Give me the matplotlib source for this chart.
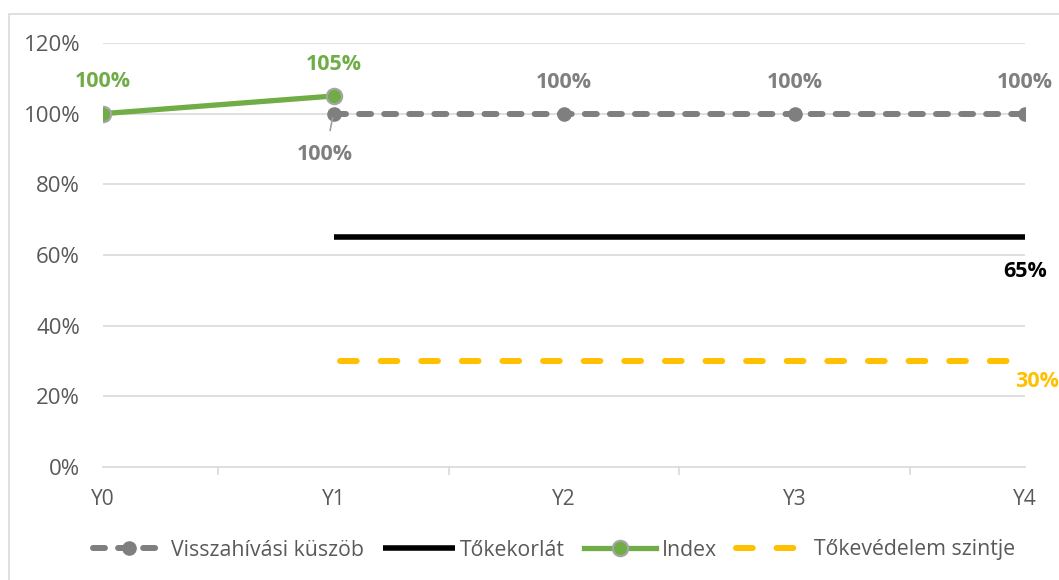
import matplotlib.pyplot as plt
from matplotlib.patches import Rectangle

plt.rcParams["font.family"] = ["Open Sans", "DejaVu Sans"]

years = ["Y0", "Y1", "Y2", "Y3", "Y4"]
call_level = [None, 100, 100, 100, 100]
capital_barrier = [None, 65, 65, 65, 65]
index_vals = [100, 105, None, None, None]
protection = [None, 30, 30, 30, 30]

GREY = "#7f7f7f"
GREEN = "#70ad47"
YELLOW = "#ffc000"
GRID = "#d9d9d9"
TXT = "#595959"


def _pts(vals):
    xs = [i for i, v in enumerate(vals) if v is not None]
    ys = [v for v in vals if v is not None]
    return xs, ys


fig = plt.figure(figsize=(10.59, 5.80), dpi=100)
ax = fig.add_axes([103 / 1059, 1 - 467 / 580, (1025 - 103) / 1059, (467 - 43) / 580])

fig.patches.append(Rectangle((9 / 1059, -0.1), 1.2, 1 - 14 / 580 + 0.1,
                             transform=fig.transFigure, fill=False,
                             edgecolor=GRID, linewidth=1.2))

x, y = _pts(call_level)
ax.plot(x, y, color=GREY, lw=4.3, ls=(0, (2.0, 2.2)), dash_capstyle="round",
        marker="o", ms=9.5, mfc=GREY, mec=GREY, label="Visszahívási küszöb", zorder=3)
x, y = _pts(capital_barrier)
ax.plot(x, y, color="black", lw=4.0, solid_capstyle="butt", label="Tőkekorlát", zorder=3)
x, y = _pts(index_vals)
ax.plot(x, y, color=GREEN, lw=3.8, marker="o", ms=11, mfc=GREEN, mec="#a5a5a5",
        mew=1.6, label="Index", zorder=4)
x, y = _pts(protection)
ax.plot([v + 0.03 if v == 1 else v for v in x], y, color=YELLOW, lw=4.3,
        ls=(0, (2.8, 4.0)), dash_capstyle="round", label="Tőkevédelem szintje", zorder=3)

# data labels
lab = dict(fontsize=15.5, fontweight="bold", ha="center", va="center",
           textcoords="offset points")
for i, v in enumerate(index_vals):
    if v is not None:
        ax.annotate(f"{v}%", (i, v), xytext=(0, 23), color=GREEN, **lab)
for i, v in enumerate(call_level):
    if v is None:
        continue
    if i == 1:
        ax.annotate(f"{v}%", (i, v), xytext=(-6, -29.5), color=GREY,
                    arrowprops=dict(arrowstyle="-", color="#a0a0a0", lw=1.2,
                                    shrinkA=8, shrinkB=3), **lab)
    else:
        ax.annotate(f"{v}%", (i, v), xytext=(0, 22.3), color=GREY, **lab)
ax.annotate(f"{capital_barrier[-1]}%", (4, capital_barrier[-1]), xytext=(0, -24.5),
            color="black", **lab)
ax.annotate(f"{protection[-1]}%", (4, protection[-1]), xytext=(8.6, -15),
            color=YELLOW, **lab)

ax.set_xlim(0, 4)
ax.set_ylim(0, 120)
ax.set_yticks(range(0, 121, 20))
ax.set_yticklabels([f"{t}%" for t in range(0, 121, 20)])
ax.set_xticks(range(len(years)))
ax.set_xticklabels(years)
ax.set_xticks([0, 0.5, 1.5, 2.5, 3.5, 4], minor=True)
ax.tick_params(axis="x", which="major", length=0, pad=16, labelsize=15, labelcolor=TXT)
ax.tick_params(axis="x", which="minor", length=6, color=GRID, width=1.2)
ax.tick_params(axis="y", length=0, pad=16.5, labelsize=16, labelcolor=TXT)
ax.grid(axis="y", color=GRID, lw=1.2)
ax.set_axisbelow(True)
for side in ["top", "right", "left"]:
    ax.spines[side].set_visible(False)
ax.spines["bottom"].set_color(GRID)
ax.spines["bottom"].set_linewidth(1.2)
ax.spines["bottom"].set_zorder(2)
for ln in ax.get_ygridlines()[:1]:
    ln.set_visible(False)

fig.legend(loc="center", bbox_to_anchor=(0.523, 1 - 550 / 580), ncol=4, frameon=False,
           fontsize=15.3, labelcolor=TXT, handlelength=3.4, handletextpad=0.25,
           columnspacing=0.9)

fig.savefig("out.png", dpi=100)
